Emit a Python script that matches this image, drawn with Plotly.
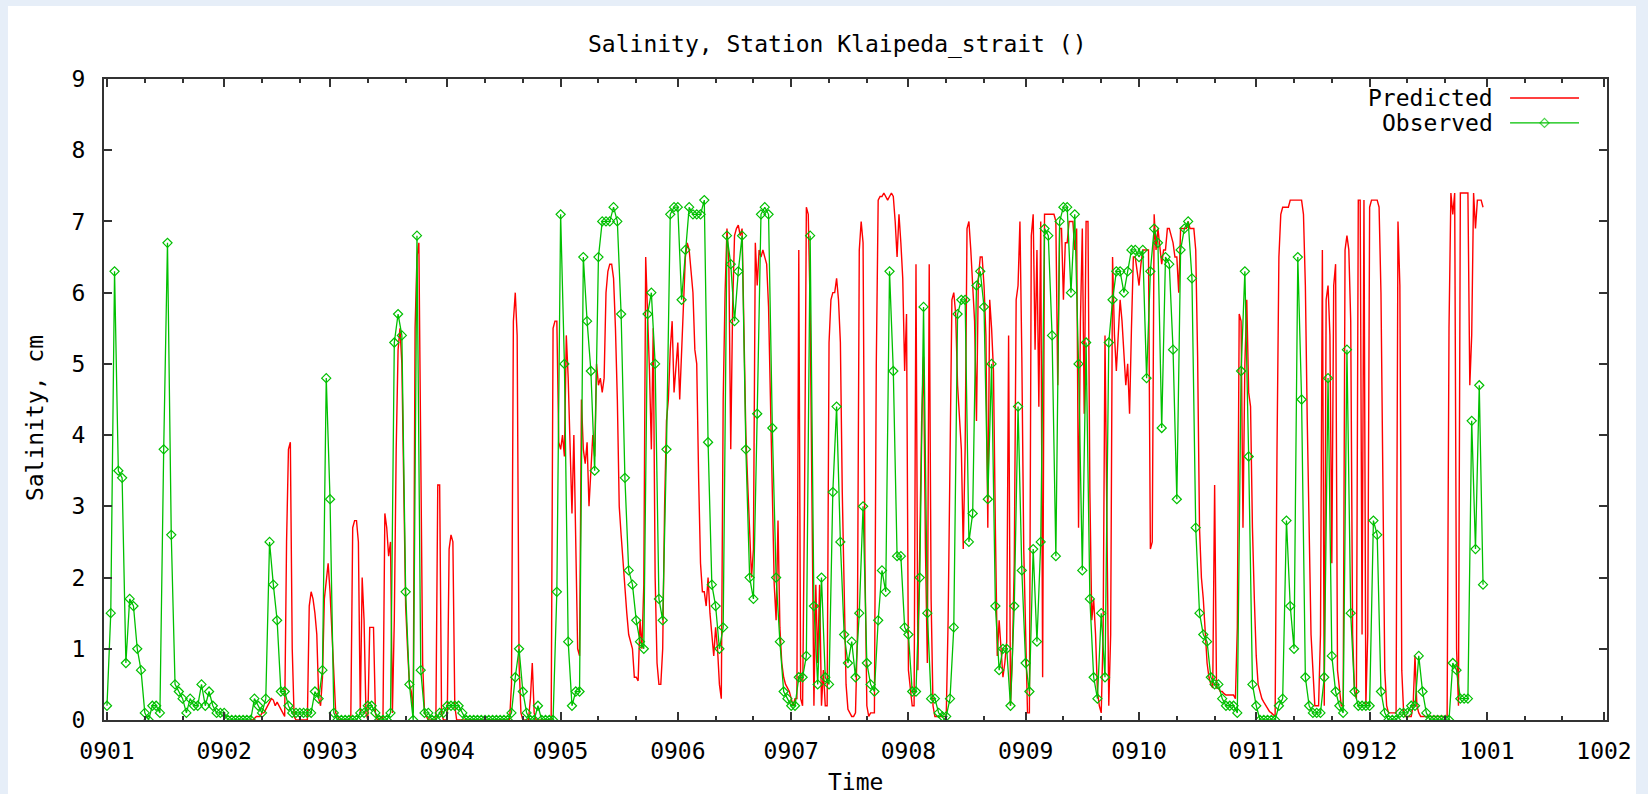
import plotly.graph_objects as go
import pandas as pd

# ---------------- data ----------------
# Observed: one value per day of 2009
obs_jan = [0.2, 1.5, 6.3, 3.5, 3.4, 0.8, 1.7, 1.6, 1.0, 0.7, 0.1, 0.0, 0.2, 0.2, 0.1, 3.8,
           6.7, 2.6, 0.5, 0.4, 0.3, 0.1, 0.3, 0.2, 0.2, 0.5, 0.2, 0.4, 0.2, 0.1, 0.1]
obs_feb = [0.1, 0.0, 0.0, 0.0, 0.0, 0.0, 0.0, 0.0, 0.3, 0.2, 0.1, 0.3, 2.5, 1.9, 1.4, 0.4,
           0.4, 0.2, 0.1, 0.1, 0.1, 0.1, 0.1, 0.1, 0.4, 0.3, 0.7, 4.8]
obs_mar = [3.1, 0.1, 0.0, 0.0, 0.0, 0.0, 0.0, 0.0, 0.1, 0.1, 0.2, 0.2, 0.1, 0.0, 0.0, 0.0,
           0.1, 5.3, 5.7, 5.4, 1.8, 0.5, 0.0, 6.8, 0.7, 0.1, 0.1, 0.0, 0.0, 0.1, 0.1]
obs_apr = [0.2, 0.2, 0.2, 0.2, 0.1, 0.0, 0.0, 0.0, 0.0, 0.0, 0.0, 0.0, 0.0, 0.0, 0.0, 0.0,
           0.0, 0.1, 0.6, 1.0, 0.4, 0.1, 0.0, 0.0, 0.2, 0.0, 0.0, 0.0, 0.0, 1.8]
obs_may = [7.1, 5.0, 1.1, 0.2, 0.4, 0.4, 6.5, 5.6, 4.9, 3.5, 6.5, 7.0, 7.0, 7.0, 7.2, 7.0,
           5.7, 3.4, 2.1, 1.9, 1.4, 1.1, 1.0, 5.7, 6.0, 5.0, 1.7, 1.4, 3.8, 7.1, 7.2]
obs_jun = [7.2, 5.9, 6.6, 7.2, 7.1, 7.1, 7.1, 7.3, 3.9, 1.9, 1.6, 1.0, 1.3, 6.8, 6.4, 5.6,
           6.3, 6.8, 3.8, 2.0, 1.7, 4.3, 7.1, 7.2, 7.1, 4.1, 2.0, 1.1, 0.4, 0.3]
obs_jul = [0.2, 0.2, 0.6, 0.6, 0.9, 6.8, 1.6, 0.5, 2.0, 0.6, 0.5, 3.2, 4.4, 2.5, 1.2, 0.8,
           1.1, 0.6, 1.5, 3.0, 0.8, 0.5, 0.4, 1.4, 2.1, 1.8, 6.3, 4.9, 2.3, 2.3, 1.3]
obs_aug = [1.2, 0.4, 0.4, 2.0, 5.8, 1.5, 0.3, 0.3, 0.1, 0.05, 0.05, 0.3, 1.3, 5.7, 5.9, 5.9,
           2.5, 2.9, 6.1, 6.3, 5.8, 3.1, 5.0, 1.6, 0.7, 1.0, 1.0, 0.2, 1.6, 4.4, 2.1]
obs_sep = [0.8, 0.4, 2.4, 1.1, 2.5, 6.9, 6.8, 5.4, 2.3, 7.0, 7.2, 7.2, 6.0, 7.1, 5.0, 2.1,
           5.3, 1.7, 0.6, 0.3, 1.5, 0.6, 5.3, 5.9, 6.3, 6.3, 6.0, 6.3, 6.6, 6.6]
obs_oct = [6.5, 6.6, 4.8, 6.3, 6.9, 6.7, 4.1, 6.5, 6.4, 5.2, 3.1, 6.6, 6.9, 7.0, 6.2, 2.7,
           1.5, 1.2, 1.1, 0.6, 0.5, 0.5, 0.3, 0.2, 0.2, 0.2, 0.1, 4.9, 6.3, 3.7, 0.5]
obs_nov = [0.2, 0.0, 0.0, 0.0, 0.0, 0.0, 0.2, 0.3, 2.8, 1.6, 1.0, 6.5, 4.5, 0.6, 0.2, 0.1,
           0.1, 0.1, 0.6, 4.8, 0.9, 0.4, 0.2, 0.1, 5.2, 1.5, 0.4, 0.2, 0.2, 0.2]
obs_dec = [0.2, 2.8, 2.6, 0.4, 0.1, 0.0, 0.0, 0.0, 0.1, 0.1, 0.1, 0.2, 0.2, 0.9, 0.4, 0.1,
           0.0, 0.0, 0.0, 0.0, 0.0, 0.0, 0.8, 0.7, 0.3, 0.3, 0.3, 4.2, 2.4, 4.7, 1.9]

# Predicted: two values per day (00h, 12h), series starts 2009-02-08
pred_feb = [0.0, 0.0, 0.02, 0.05, 0.05, 0.05, 0.1, 0.1, 0.15, 0.2, 0.25, 0.3, 0.28, 0.2,
            0.25, 0.2, 0.15, 0.1, 0.05, 2.5, 3.8, 3.9, 1.0, 0.05, 0.0, 0.0, 0.0, 0.0,
            0.0, 0.0, 0.0, 1.6, 1.8, 1.7, 1.5, 1.2, 0.3, 0.2, 0.6, 1.7, 2.0, 2.2]
pred_mar = [1.8, 1.2, 0.8, 0.1, 0.05, 0.0, 0.0, 0.0, 0.0, 0.0, 0.0, 0.05, 2.7, 2.8, 2.8, 2.5,
            0.1, 2.0, 1.4, 0.1, 0.0, 1.3, 1.3, 1.3, 0.1, 0.0, 0.0, 0.05, 0.0, 2.9, 2.7, 2.3,
            2.5, 0.1, 1.4, 3.8, 5.2, 5.5, 5.0, 3.0, 1.6, 1.0, 0.5, 0.4, 0.1, 5.5, 6.5, 6.7,
            3.3, 0.8, 0.1, 0.05, 0.0, 0.0, 0.0, 0.0, 0.0, 3.3, 3.3, 0.1, 0.0, 0.0]
pred_apr = [0.0, 2.4, 2.6, 2.5, 0.2, 0.0, 0.0, 0.0, 0.0, 0.0, 0.0, 0.0, 0.0, 0.0, 0.0, 0.0,
            0.0, 0.0, 0.0, 0.0, 0.0, 0.0, 0.0, 0.0, 0.0, 0.0, 0.0, 0.0, 0.0, 0.0, 0.0, 0.0,
            0.0, 0.0, 0.5, 5.6, 6.0, 5.4, 0.8, 0.1, 0.0, 0.0, 0.0, 0.0, 0.3, 0.8, 0.1, 0.0,
            0.0, 0.0, 0.0, 0.0, 0.0, 0.0, 0.0, 0.0, 5.5, 5.6, 5.6, 3.9]
pred_may = [3.8, 4.0, 3.7, 5.4, 4.8, 3.8, 2.9, 4.0, 2.6, 1.0, 0.9, 4.5, 3.8, 3.6, 3.9, 3.0,
            3.5, 4.0, 3.7, 5.0, 4.7, 4.8, 4.6, 4.8, 6.0, 6.3, 6.4, 6.4, 6.2, 5.5, 4.5, 3.0,
            2.6, 2.2, 1.8, 1.5, 1.2, 1.1, 1.0, 0.6, 0.6, 0.55, 1.4, 1.0, 1.9, 6.5, 5.8, 4.9,
            3.8, 5.5, 2.0, 0.8, 0.5, 0.5, 1.0, 3.0, 4.2, 4.5, 5.2, 5.6, 4.6, 5.0]
pred_jun = [5.3, 4.5, 5.2, 6.0, 6.5, 6.7, 6.6, 6.3, 6.0, 5.2, 5.0, 3.4, 2.2, 1.8, 1.8, 1.6,
            2.0, 1.5, 1.2, 0.9, 1.3, 1.0, 0.5, 0.3, 4.5, 6.0, 6.9, 6.4, 3.8, 5.8, 6.8, 6.9,
            6.95, 6.8, 6.9, 5.2, 4.0, 3.3, 2.5, 2.0, 2.4, 6.7, 6.1, 6.6, 6.5, 6.6, 6.5, 6.4,
            5.8, 4.6, 3.2, 1.9, 1.4, 2.8, 1.3, 0.8, 0.6, 0.5, 0.45, 0.4]
pred_jul = [0.3, 0.2, 0.3, 0.3, 6.6, 0.3, 0.2, 3.0, 7.2, 7.1, 5.8, 2.4, 0.2, 1.9, 0.8, 1.9,
            0.2, 0.7, 0.2, 0.2, 5.3, 5.9, 6.0, 6.0, 6.2, 5.9, 5.3, 3.2, 1.7, 0.5, 0.15, 0.1,
            0.05, 0.05, 0.1, 1.2, 6.6, 7.0, 6.7, 2.2, 0.2, 0.05, 0.1, 0.1, 0.1, 5.0, 7.3, 7.35,
            7.35, 7.4, 7.35, 7.3, 7.35, 7.4, 7.35, 7.0, 6.5, 7.1, 6.7, 6.2, 4.9, 5.7]
pred_aug = [0.7, 0.4, 0.2, 0.2, 6.4, 0.7, 2.2, 4.2, 5.1, 2.4, 0.8, 6.4, 1.7, 0.2, 0.05, 0.05,
            0.05, 0.05, 0.05, 0.05, 0.05, 1.4, 3.4, 5.9, 6.0, 5.7, 4.7, 4.2, 3.8, 2.4, 3.8, 6.9,
            7.0, 6.6, 6.1, 5.6, 4.2, 6.2, 6.5, 6.5, 6.1, 5.4, 2.7, 5.9, 5.5, 4.9, 2.7, 0.9,
            1.4, 1.0, 0.6, 0.8, 1.1, 5.4, 0.2, 0.9, 2.2, 5.9, 6.1, 7.0, 5.1, 2.4]
pred_sep = [1.2, 0.1, 0.1, 6.8, 7.1, 5.2, 6.6, 4.4, 7.0, 0.6, 7.1, 7.1, 7.1, 7.1, 7.1, 7.1,
            7.0, 4.7, 6.9, 6.9, 5.9, 6.7, 6.7, 7.0, 7.0, 7.0, 6.6, 6.9, 2.7, 5.6, 6.9, 4.3,
            7.0, 7.0, 3.2, 1.4, 1.7, 1.2, 0.4, 0.2, 0.1, 1.2, 5.4, 2.7, 0.2, 1.2, 6.5, 5.4,
            4.9, 5.4, 5.9, 5.6, 5.1, 4.7, 5.0, 4.3, 5.5, 6.5, 6.5, 6.3]
pred_oct = [6.1, 6.4, 6.6, 6.6, 6.6, 6.6, 2.4, 2.5, 7.1, 6.6, 6.9, 6.6, 6.4, 6.6, 6.6, 6.9,
            6.9, 6.8, 6.7, 6.5, 6.5, 6.0, 6.9, 6.9, 6.9, 6.9, 7.0, 6.9, 6.9, 6.9, 6.6, 5.1,
            2.7, 2.0, 1.7, 1.2, 0.8, 0.6, 0.5, 0.45, 3.3, 0.45, 0.45, 0.4, 0.4, 0.37, 0.35, 0.35,
            0.35, 0.35, 0.35, 0.3, 1.3, 5.7, 5.6, 2.7, 5.0, 5.9, 4.6, 4.4, 2.7, 1.7]
pred_nov = [0.9, 0.5, 0.4, 0.3, 0.25, 0.2, 0.15, 0.12, 0.1, 0.08, 0.05, 3.8, 6.5, 7.1, 7.2, 7.2,
            7.2, 7.2, 7.3, 7.3, 7.3, 7.3, 7.3, 7.3, 7.3, 7.1, 6.1, 4.2, 2.4, 1.2, 0.7, 0.2,
            0.2, 0.2, 1.2, 6.6, 0.2, 5.9, 6.1, 5.4, 2.2, 6.1, 6.4, 0.7, 0.45, 0.2, 0.2, 6.6,
            6.8, 6.6, 5.6, 1.2, 0.4, 0.3, 7.3, 7.3, 1.2, 7.3, 0.2, 1.2]
pred_dec = [7.2, 7.3, 7.3, 7.3, 7.3, 7.2, 6.0, 3.4, 0.7, 0.2, 0.1, 0.1, 0.1, 0.1, 0.1, 7.0,
            6.1, 0.7, 0.1, 0.05, 0.05, 0.05, 0.05, 0.2, 0.9, 0.2, 0.1, 0.05, 0.05, 0.05, 0.05,
            0.05, 0.05, 0.05, 0.05, 0.05, 0.05, 0.05, 0.05, 0.05, 0.05, 0.05, 5.5, 7.4, 7.1, 7.4,
            1.0, 0.2, 7.4, 7.4, 7.4, 7.4, 7.4, 4.7, 5.4, 7.4, 6.9, 7.3, 7.3, 7.3, 7.2]

month_starts = ["2009-01-01", "2009-02-01", "2009-03-01", "2009-04-01", "2009-05-01",
                "2009-06-01", "2009-07-01", "2009-08-01", "2009-09-01", "2009-10-01",
                "2009-11-01", "2009-12-01"]
obs_months = [obs_jan, obs_feb, obs_mar, obs_apr, obs_may, obs_jun, obs_jul, obs_aug,
              obs_sep, obs_oct, obs_nov, obs_dec]
pred_starts = ["2009-02-08"] + month_starts[2:]
pred_months = [pred_feb, pred_mar, pred_apr, pred_may, pred_jun, pred_jul, pred_aug,
               pred_sep, pred_oct, pred_nov, pred_dec]

obs_t, obs_v = [], []
for start, vals in zip(month_starts, obs_months):
    obs_t += list(pd.date_range(start, periods=len(vals), freq="D"))
    obs_v += vals
pred_t, pred_v = [], []
for start, vals in zip(pred_starts, pred_months):
    pred_t += list(pd.date_range(start, periods=len(vals), freq="12h"))
    pred_v += vals

# ---------------- figure ----------------
FONT = "DejaVu Sans Mono"
FS = 23
AX = "#333333"
RED = "#ff0000"
GREEN = "#00c000"

fig = go.Figure()
fig.add_trace(go.Scatter(x=pred_t, y=pred_v, mode="lines", name="Predicted",
                         line=dict(color=RED, width=1.4), showlegend=False))
fig.add_trace(go.Scatter(x=obs_t, y=obs_v, mode="lines+markers", name="Observed",
                         line=dict(color=GREEN, width=1.3),
                         marker=dict(symbol="diamond-open", size=7, color=GREEN,
                                     line=dict(width=1.2, color=GREEN)),
                         showlegend=False))

# gnuplot-style key (text right-justified, sample to the right)
fig.add_trace(go.Scatter(x=[0.9355, 0.9814], y=[0.9704, 0.9704], mode="lines",
                         line=dict(color=RED, width=1.4), xaxis="x2", yaxis="y2",
                         showlegend=False, hoverinfo="skip"))
fig.add_trace(go.Scatter(x=[0.9355, 0.9584, 0.9814], y=[0.9314, 0.9314, 0.9314],
                         mode="lines+markers", line=dict(color=GREEN, width=1.3),
                         marker=dict(symbol="diamond-open", size=[0, 7, 0], color=GREEN,
                                     line=dict(width=1.2, color=GREEN)),
                         xaxis="x2", yaxis="y2", showlegend=False, hoverinfo="skip"))

minor_vals = []
for y, m in [(2009, i) for i in range(1, 13)] + [(2010, 1)]:
    minor_vals += [f"{y}-{m:02d}-11", f"{y}-{m:02d}-21"]

fig.update_layout(
    width=1648, height=794,
    margin=dict(l=104, r=41, t=79, b=74),
    paper_bgcolor="#e6eef8",
    plot_bgcolor="white",
    font=dict(family=FONT, size=FS, color="black"),
    showlegend=False,
    xaxis=dict(type="date", range=["2008-12-31 05:00", "2010-02-01 19:00"],
               tick0="2009-01-01", dtick="M1", tickformat="%y%m",
               ticks="inside", ticklen=8, tickwidth=1.5, tickcolor=AX,
               showline=True, linecolor=AX, linewidth=2, mirror="ticks",
               showgrid=False, zeroline=False, ticklabelstandoff=9,
               tickfont=dict(family=FONT, size=FS, color="black"),
               minor=dict(tickvals=minor_vals, ticks="inside", ticklen=4,
                          tickwidth=1.5, tickcolor=AX, showgrid=False)),
    yaxis=dict(range=[0, 9], dtick=1, tick0=0, ticks="inside", ticklen=8,
               tickwidth=1.5, tickcolor=AX, showline=True, linecolor=AX,
               linewidth=2, mirror="ticks", showgrid=False, zeroline=False,
               ticklabelstandoff=12,
               tickfont=dict(family=FONT, size=FS, color="black")),
    xaxis2=dict(overlaying="x", range=[0, 1], visible=False),
    yaxis2=dict(overlaying="y", range=[0, 1], visible=False),
    shapes=[dict(type="rect", xref="paper", yref="paper", layer="below",
                 x0=-0.0639, x1=1.0193, y0=-0.1154, y1=1.1139,
                 fillcolor="white", line=dict(width=0))],
    annotations=[
        dict(text="Salinity, Station Klaipeda_strait ()", xref="paper", yref="paper",
             x=0.4883, y=1.0546, xanchor="center", yanchor="middle", showarrow=False,
             font=dict(family=FONT, size=FS)),
        dict(text="Time", xref="paper", yref="paper", x=0.5, y=-0.0967,
             xanchor="center", yanchor="middle", showarrow=False,
             font=dict(family=FONT, size=FS)),
        dict(text="Salinity, cm", xref="paper", yref="paper", x=-0.0459, y=0.471,
             xanchor="center", yanchor="middle", textangle=-90, showarrow=False,
             font=dict(family=FONT, size=FS)),
        dict(text="Predicted", xref="paper", yref="paper", x=0.9255, y=0.9704,
             xanchor="right", yanchor="middle", showarrow=False,
             font=dict(family=FONT, size=FS)),
        dict(text="Observed", xref="paper", yref="paper", x=0.9255, y=0.9314,
             xanchor="right", yanchor="middle", showarrow=False,
             font=dict(family=FONT, size=FS)),
    ],
)

fig.write_html("out.html")
